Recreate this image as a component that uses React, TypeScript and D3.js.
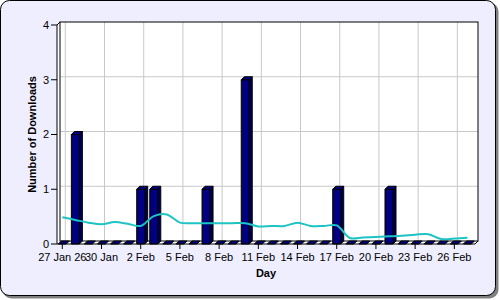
import React from "react";
import * as d3 from "d3";

// ---- data ----
const startDate = new Date(2026, 0, 27);
const endDate = new Date(2026, 1, 28);
const downloads = [0, 2, 0, 0, 0, 0, 1, 1, 0, 0, 0, 1, 0, 0, 3, 0, 0, 0, 0, 0, 0, 1, 0, 0, 0, 1, 0, 0, 0, 0, 0, 0];
const trend = [0.49, 0.44, 0.39, 0.36, 0.40, 0.37, 0.33, 0.51, 0.54, 0.39, 0.38, 0.38, 0.38, 0.38, 0.38, 0.32, 0.33, 0.33, 0.39, 0.33, 0.33, 0.34, 0.11, 0.12, 0.13, 0.14, 0.15, 0.17, 0.18, 0.09, 0.10, 0.115];
const yTicks = [0, 1, 2, 3, 4];
const xTitle = "Day";
const yTitle = "Number of Downloads";

const FONT = "'Liberation Sans', Arial, sans-serif";

export default function App() {
  const days = d3.timeDay.range(startDate, endDate);
  const D = 3; // 3D depth
  const x = d3.scaleTime().domain([days[0], days[days.length - 1]]).range([62.3, 467.4]);
  const y = d3.scaleLinear().domain([0, 4]).range([244, 25]);
  const left = 57, right = 475, top = y(4), bottom = y(0);
  const xTicks = d3.timeDay.range(startDate, new Date(2026, 1, 27), 3);
  const fmtFirst = d3.timeFormat("%-d %b %y");
  const fmt = d3.timeFormat("%-d %b");
  const bw = 8;

  const line = d3
    .line<number>()
    .x((_, i) => x(days[i]))
    .y((v) => y(v))
    .curve(d3.curveCatmullRom.alpha(0.5));

  return (
    <svg width={500} height={300} style={{ position: "absolute", left: 0, top: 0 }} fontFamily={FONT}>
      {/* background */}
      <rect x={2.5} y={2.5} width={496} height={296} rx={9} fill="#808080" />
      <rect x={0.5} y={0.5} width={495} height={295} rx={9} fill="#eeeeff" stroke="#000" />
      {/* plot walls */}
      <polygon
        points={`${left},${bottom} ${left},${top} ${left + D},${top - D} ${right + D},${top - D} ${right + D},${bottom - D} ${right},${bottom}`}
        fill="#fff"
      />
      {/* grid */}
      {yTicks.slice(1, 4).map((t) => (
        <line key={"gy" + t} x1={left + D} x2={right + D} y1={y(t) - D} y2={y(t) - D} stroke="#c8c8c8" />
      ))}
      {xTicks.map((t, i) => (
        <line key={"gx" + i} x1={x(t) + D} x2={x(t) + D} y1={top - D} y2={bottom - D} stroke="#c8c8c8" />
      ))}
      <rect x={left + D} y={top - D} width={right - left} height={bottom - top} fill="none" stroke="#000" />
      {/* bars */}
      {downloads.map((v, i) => {
        const cx = x(days[i]);
        const x0 = cx - bw / 2, x1 = cx + bw / 2;
        const yt = y(v);
        return (
          <g key={"b" + i} stroke="#000" strokeWidth={1} strokeLinejoin="round">
            {v > 0 && <rect x={x0} y={yt} width={bw} height={bottom - yt} fill="#000080" />}
            {v > 0 && (
              <polygon points={`${x1},${yt} ${x1 + D},${yt - D} ${x1 + D},${bottom - D} ${x1},${bottom}`} fill="#00004a" />
            )}
            <polygon points={`${x0},${yt} ${x1},${yt} ${x1 + D},${yt - D} ${x0 + D},${yt - D}`} fill="#000080" />
          </g>
        );
      })}
      {/* trend line */}
      <path d={line(trend) || ""} fill="none" stroke="#1ec3c3" strokeWidth={2} />
      {/* axes */}
      <line x1={left} x2={left} y1={top} y2={bottom} stroke="#000" />
      <line x1={left} x2={left + D} y1={top} y2={top - D} stroke="#000" />
      <line x1={left} x2={right} y1={bottom} y2={bottom} stroke="#000" />
      <line x1={right} x2={right + D} y1={bottom} y2={bottom - D} stroke="#000" />
      {yTicks.map((t) => (
        <g key={"yt" + t}>
          <line x1={left - 6} x2={left} y1={y(t)} y2={y(t)} stroke="#000" />
          <text x={left - 8} y={y(t)} dy="0.36em" textAnchor="end" fontSize={11}>
            {t}
          </text>
        </g>
      ))}
      {xTicks.map((t, i) => (
        <g key={"xt" + i}>
          <line x1={x(t)} x2={x(t)} y1={bottom} y2={bottom + 5} stroke="#000" />
          <text x={x(t)} y={bottom + 17} textAnchor="middle" fontSize={11}>
            {i === 0 ? fmtFirst(t) : fmt(t)}
          </text>
        </g>
      ))}
      <text x={(left + right) / 2} y={277} textAnchor="middle" fontSize={11} fontWeight="bold">
        {xTitle}
      </text>
      <text
        transform={`translate(36,${(top + bottom) / 2}) rotate(-90)`}
        textAnchor="middle"
        fontSize={11}
        fontWeight="bold"
      >
        {yTitle}
      </text>
    </svg>
  );
}
